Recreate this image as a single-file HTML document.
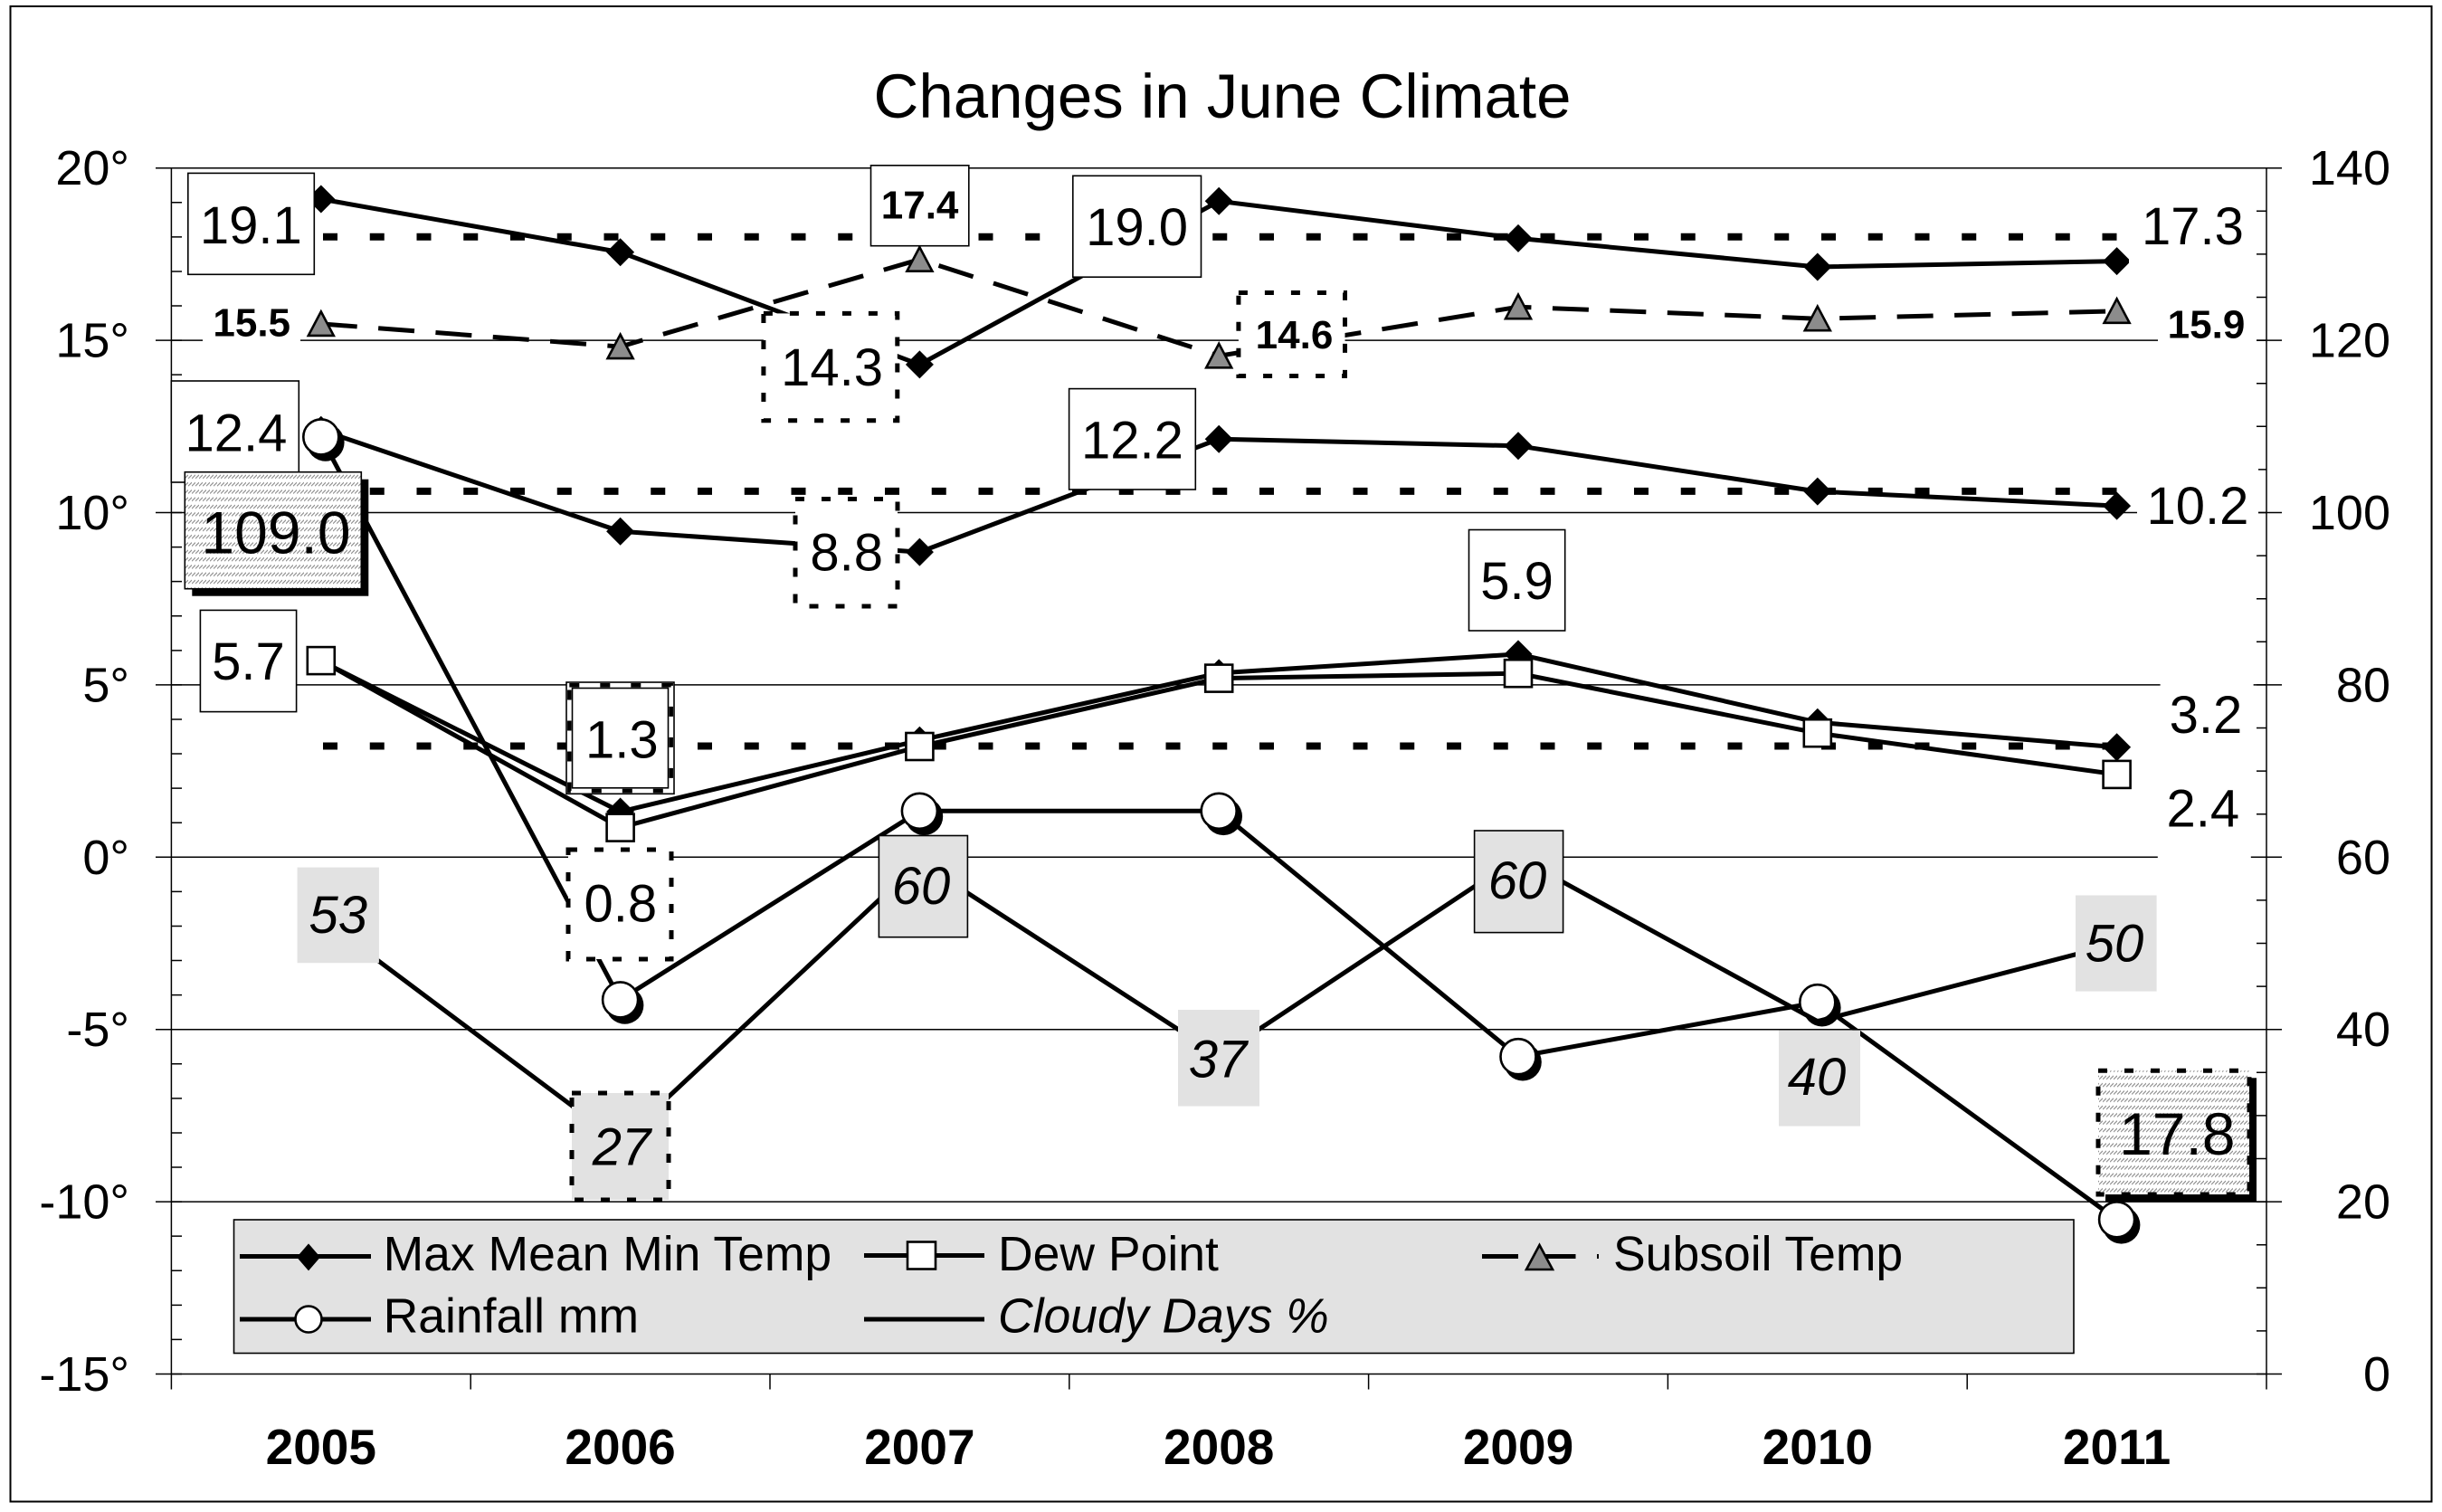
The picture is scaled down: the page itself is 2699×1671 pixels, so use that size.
<!DOCTYPE html>
<html><head><meta charset="utf-8"><style>
html,body{margin:0;padding:0;background:#fff;}
svg{display:block;}
text{font-family:"Liberation Sans",Arial,sans-serif;}
.l{font-size:58px;}
.b{font-size:44px;font-weight:bold;}
.i{font-size:58px;font-style:italic;}
.g{font-size:66px;}
.ax{font-size:54px;}
.xl{font-size:55px;font-weight:bold;}
.lg{font-size:53.5px;}
</style></head><body>
<svg width="2699" height="1671" viewBox="0 0 2699 1671" xmlns="http://www.w3.org/2000/svg">
<defs>
<pattern id="hatch" width="4" height="8.3" patternUnits="userSpaceOnUse"><rect width="4" height="8.3" fill="#fff"/><line x1="0" y1="6" x2="4" y2="2" stroke="#888" stroke-width="1.1"/></pattern>
<path id="dm" d="M0,-15.5 L15.5,0 L0,15.5 L-15.5,0Z" fill="#000"/>
<rect id="sq" x="-15" y="-15" width="30" height="30" fill="#fff" stroke="#000" stroke-width="2.6"/>
<path id="tr" d="M0,-13.5 L14,13 L-14,13Z" fill="#8c8c8c" stroke="#000" stroke-width="2.6" stroke-linejoin="miter"/>
<g id="ci"><circle cx="5" cy="6" r="20.8" fill="#000"/><circle cx="0" cy="0" r="19.5" fill="#fff" stroke="#000" stroke-width="2.6"/></g>
</defs>
<rect width="2699" height="1671" fill="#fff"/>
<rect x="11.5" y="7" width="2676" height="1652.5" fill="none" stroke="#000" stroke-width="2"/>

<text x="1351" y="130" font-size="69" text-anchor="middle">Changes in June Climate</text>

<!-- gridlines -->
<g stroke="#000" stroke-width="1.5">
<line x1="172" y1="185.7" x2="2522" y2="185.7"/>
<line x1="172" y1="376.1" x2="2522" y2="376.1"/>
<line x1="172" y1="566.5" x2="2522" y2="566.5"/>
<line x1="172" y1="756.9" x2="2522" y2="756.9"/>
<line x1="172" y1="947.3" x2="2522" y2="947.3"/>
<line x1="172" y1="1137.7" x2="2522" y2="1137.7"/>
<line x1="172" y1="1328.1" x2="2522" y2="1328.1"/>
<line x1="172" y1="1518.5" x2="2522" y2="1518.5"/>
<line x1="189.4" y1="185.7" x2="189.4" y2="1535.5"/>
<line x1="2505" y1="185.7" x2="2505" y2="1535.5"/>
<line x1="520.2" y1="1518.5" x2="520.2" y2="1535.5"/>
<line x1="851" y1="1518.5" x2="851" y2="1535.5"/>
<line x1="1181.8" y1="1518.5" x2="1181.8" y2="1535.5"/>
<line x1="1512.6" y1="1518.5" x2="1512.6" y2="1535.5"/>
<line x1="1843.4" y1="1518.5" x2="1843.4" y2="1535.5"/>
<line x1="2174.2" y1="1518.5" x2="2174.2" y2="1535.5"/>
</g>
<line x1="195.2" y1="184.95" x2="195.2" y2="1520" stroke="#000" stroke-width="11.6" stroke-dasharray="1.5 36.58"/>
<line x1="2499.5" y1="184.95" x2="2499.5" y2="1520" stroke="#000" stroke-width="11" stroke-dasharray="1.5 46.1"/>

<!-- axis labels -->
<g class="ax" text-anchor="end">
<text x="143" y="204.2">20°</text>
<text x="143" y="394.6">15°</text>
<text x="143" y="585">10°</text>
<text x="143" y="775.4">5°</text>
<text x="143" y="965.8">0°</text>
<text x="143" y="1156.2">-5°</text>
<text x="143" y="1346.6">-10°</text>
<text x="143" y="1537">-15°</text>
<text x="2642" y="204.2">140</text>
<text x="2642" y="394.6">120</text>
<text x="2642" y="585">100</text>
<text x="2642" y="775.4">80</text>
<text x="2642" y="965.8">60</text>
<text x="2642" y="1156.2">40</text>
<text x="2642" y="1346.6">20</text>
<text x="2642" y="1537">0</text>
</g>
<g class="xl" text-anchor="middle">
<text x="354.8" y="1618">2005</text>
<text x="685.6" y="1618">2006</text>
<text x="1016.4" y="1618">2007</text>
<text x="1347.2" y="1618">2008</text>
<text x="1678" y="1618">2009</text>
<text x="2008.8" y="1618">2010</text>
<text x="2339.6" y="1618">2011</text>
</g>

<!-- average dotted lines -->
<g stroke="#000" stroke-width="8" stroke-dasharray="16 35.75" fill="none">
<line x1="357" y1="261.7" x2="2340" y2="261.7"/>
<line x1="357" y1="542.9" x2="2340" y2="542.9"/>
<line x1="357" y1="824.5" x2="2340" y2="824.5"/>
</g>

<!-- series lines -->
<g fill="none" stroke="#000" stroke-width="5" stroke-linejoin="round">
<polyline points="354.8,220 685.6,278.7 1016.4,402.9 1347.2,222.3 1678,263.4 2008.8,295 2339.6,288.6"/>
<polyline points="354.8,475.3 685.6,587.3 1016.4,610.1 1347.2,485.2 1678,492.8 2008.8,543.1 2339.6,559.1"/>
<polyline points="354.8,730.5 685.6,897 1016.4,818.2 1347.2,743.9 1678,722.9 2008.8,798.3 2339.6,825.8"/>
</g>
<g>
<use href="#dm" x="354.8" y="220"/><use href="#dm" x="685.6" y="278.7"/><use href="#dm" x="1016.4" y="402.9"/><use href="#dm" x="1347.2" y="222.3"/><use href="#dm" x="1678" y="263.4"/><use href="#dm" x="2008.8" y="295"/><use href="#dm" x="2339.6" y="288.6"/>
<use href="#dm" x="354.8" y="475.3"/><use href="#dm" x="685.6" y="587.3"/><use href="#dm" x="1016.4" y="610.1"/><use href="#dm" x="1347.2" y="485.2"/><use href="#dm" x="1678" y="492.8"/><use href="#dm" x="2008.8" y="543.1"/><use href="#dm" x="2339.6" y="559.1"/>
<use href="#dm" x="354.8" y="730.5"/><use href="#dm" x="685.6" y="897"/><use href="#dm" x="1016.4" y="818.2"/><use href="#dm" x="1347.2" y="743.9"/><use href="#dm" x="1678" y="722.9"/><use href="#dm" x="2008.8" y="798.3"/><use href="#dm" x="2339.6" y="825.8"/>
</g>
<polyline fill="none" stroke="#000" stroke-width="5" stroke-linejoin="round" points="354.8,730.1 685.6,914.6 1016.4,825 1347.2,749.6 1678,744.2 2008.8,810.2 2339.6,855.9"/>
<g>
<use href="#sq" x="354.8" y="730.1"/><use href="#sq" x="685.6" y="914.6"/><use href="#sq" x="1016.4" y="825"/><use href="#sq" x="1347.2" y="749.6"/><use href="#sq" x="1678" y="744.2"/><use href="#sq" x="2008.8" y="810.2"/><use href="#sq" x="2339.6" y="855.9"/>
</g>
<polyline fill="none" stroke="#000" stroke-width="5" stroke-dasharray="40 23.5" points="354.8,357.9 685.6,383.1 1016.4,286.7 1347.2,393.3 1678,339.2 2008.8,352.2 2339.6,343.8"/>
<g>
<use href="#tr" x="354.8" y="357.9"/><use href="#tr" x="685.6" y="383.1"/><use href="#tr" x="1016.4" y="286.7"/><use href="#tr" x="1347.2" y="393.3"/><use href="#tr" x="1678" y="339.2"/><use href="#tr" x="2008.8" y="352.2"/><use href="#tr" x="2339.6" y="343.8"/>
</g>
<polyline fill="none" stroke="#000" stroke-width="5" stroke-linejoin="round" points="354.8,482.9 685.6,1104.9 1016.4,896.3 1347.2,896.3 1678,1167.7 2008.8,1107.7 2339.6,1347.8"/>
<g>
<use href="#ci" x="354.8" y="482.9"/><use href="#ci" x="685.6" y="1104.9"/><use href="#ci" x="1016.4" y="896.3"/><use href="#ci" x="1347.2" y="896.3"/><use href="#ci" x="1678" y="1167.7"/><use href="#ci" x="2008.8" y="1107.7"/><use href="#ci" x="2339.6" y="1347.8"/>
</g>
<polyline fill="none" stroke="#000" stroke-width="5" stroke-linejoin="round" points="354.8,1014.4 685.6,1262 1016.4,952.5 1347.2,1166.8 1678,947.7 2008.8,1128.7 2339.6,1043"/>

<!-- white no-border labels -->
<g fill="#fff">
<rect x="224" y="313" width="108" height="89"/>
<rect x="2353" y="192.5" width="141" height="112"/>
<rect x="2385" y="315" width="109" height="89"/>
<rect x="2362" y="501.5" width="134" height="112"/>
<rect x="2387.6" y="732.5" width="103" height="112"/>
<rect x="2384.8" y="836" width="103" height="114"/>
</g>
<text class="b" x="278.2" y="371.7" text-anchor="middle">15.5</text>
<text class="l" x="2423.5" y="270" text-anchor="middle">17.3</text>
<text class="b" x="2438.5" y="373.6" text-anchor="middle">15.9</text>
<text class="l" x="2429" y="579" text-anchor="middle">10.2</text>
<text class="l" x="2438" y="810" text-anchor="middle">3.2</text>
<text class="l" x="2434.8" y="913.3" text-anchor="middle">2.4</text>

<!-- bordered labels -->
<g fill="#fff" stroke="#000" stroke-width="1.6">
<rect x="207.8" y="191.4" width="139.5" height="111.9"/>
<rect x="189.3" y="421" width="141" height="112"/>
<rect x="221.4" y="674.4" width="106.2" height="112.2"/>
<rect x="962.5" y="182.8" width="108.3" height="88.9"/>
<rect x="1185.8" y="194.3" width="141.7" height="111.9"/>
<rect x="1181.6" y="429.6" width="139.7" height="111.4"/>
<rect x="1623.5" y="585.5" width="106.2" height="111.5"/>
</g>
<text class="l" x="277.3" y="268.9" text-anchor="middle">19.1</text>
<text class="l" x="261" y="498.3" text-anchor="middle">12.4</text>
<text class="l" x="274.5" y="751" text-anchor="middle">5.7</text>
<text class="b" x="1016.6" y="241.4" text-anchor="middle">17.4</text>
<text class="l" x="1256.6" y="271" text-anchor="middle">19.0</text>
<text class="l" x="1251.5" y="506.5" text-anchor="middle">12.2</text>
<text class="l" x="1676.6" y="662" text-anchor="middle">5.9</text>

<!-- dashed labels -->
<g fill="#fff" stroke="#000" stroke-width="5" stroke-dasharray="10 19">
<rect x="843.9" y="346.4" width="147.9" height="118.4"/>
<rect x="879" y="551.5" width="113" height="118.5"/>
<rect x="1368.9" y="323.5" width="117.6" height="92"/>
<rect x="628" y="939" width="114" height="121"/>
<rect x="632" y="1208" width="107" height="118" fill="#e2e2e2"/>
</g>
<text class="l" x="919.6" y="426" text-anchor="middle">14.3</text>
<text class="l" x="935.7" y="630.6" text-anchor="middle">8.8</text>
<text class="b" x="1430.5" y="385.2" text-anchor="middle">14.6</text>
<text class="l" x="685.8" y="1018.3" text-anchor="middle">0.8</text>
<text class="i" x="687" y="1287.5" text-anchor="middle">27</text>

<!-- 1.3 special border -->
<rect x="626" y="754" width="119" height="123.3" fill="#fff" stroke="#000" stroke-width="1.6"/>
<rect x="629.3" y="757.3" width="112.4" height="116.7" fill="none" stroke="#000" stroke-width="4.5" stroke-dasharray="11 23"/>
<rect x="632.5" y="760.5" width="106" height="110.3" fill="none" stroke="#000" stroke-width="1.6"/>
<text class="l" x="687.3" y="837.3" text-anchor="middle">1.3</text>

<!-- 109.0 -->
<rect x="212.3" y="529.7" width="195" height="129" fill="#000"/>
<rect x="204.3" y="521.7" width="195" height="129" fill="url(#hatch)" stroke="#000" stroke-width="1.6"/>
<text class="g" x="305" y="611.7" text-anchor="middle">109.0</text>

<!-- 17.8 -->
<rect x="2327" y="1191.3" width="167" height="136.7" fill="#000"/>
<rect x="2319" y="1183.3" width="167" height="136.7" fill="url(#hatch)"/>
<rect x="2319" y="1183.3" width="167" height="136.7" fill="none" stroke="#000" stroke-width="5" stroke-dasharray="10 19"/>
<text class="g" x="2406.3" y="1276" text-anchor="middle">17.8</text>

<!-- cloudy labels -->
<g fill="#e2e2e2">
<rect x="328.6" y="958.6" width="90.3" height="105.6"/>
<rect x="1302" y="1116" width="90" height="106.5"/>
<rect x="1966" y="1138.6" width="90" height="106"/>
<rect x="2294" y="989.5" width="89.6" height="106.1"/>
<rect x="971.4" y="923.5" width="98" height="112.2" stroke="#000" stroke-width="1.6"/>
<rect x="1629.6" y="918" width="98" height="112.6" stroke="#000" stroke-width="1.6"/>
</g>
<g class="i" text-anchor="middle">
<text x="373.8" y="1031">53</text>
<text x="1346" y="1190.3">37</text>
<text x="2008" y="1210.2">40</text>
<text x="2337" y="1062.3">50</text>
<text x="1018" y="999">60</text>
<text x="1677" y="993">60</text>
</g>

<!-- legend -->
<rect x="258.5" y="1348" width="2033.5" height="147.5" fill="#e2e2e2" stroke="#000" stroke-width="1.6"/>
<g stroke="#000" stroke-width="5">
<line x1="265" y1="1388.5" x2="410" y2="1388.5"/>
<line x1="955" y1="1387.5" x2="1088" y2="1387.5"/>
<line x1="1638" y1="1388.5" x2="1767" y2="1388.5" stroke-dasharray="40 23.5"/>
<line x1="265" y1="1458" x2="410" y2="1458"/>
<line x1="955" y1="1458" x2="1088" y2="1458"/>
</g>
<path d="M341,1374.4 L354,1389.4 L341,1404.4 L328,1389.4Z" fill="#000"/>
<rect x="1003" y="1372.5" width="31" height="30" fill="#fff" stroke="#000" stroke-width="2.6"/>
<path d="M1701.5,1376 L1716,1403 L1687,1403Z" fill="#8c8c8c" stroke="#000" stroke-width="2.6"/>
<circle cx="341" cy="1458" r="14.5" fill="#fff" stroke="#000" stroke-width="2.6"/>
<g class="lg">
<text x="423.6" y="1404">Max Mean Min Temp</text>
<text x="1103" y="1404">Dew Point</text>
<text x="1783" y="1404">Subsoil Temp</text>
<text x="423.6" y="1472.5">Rainfall mm</text>
<text x="1103" y="1472.5" font-style="italic">Cloudy Days %</text>
</g>
</svg>
</body></html>
